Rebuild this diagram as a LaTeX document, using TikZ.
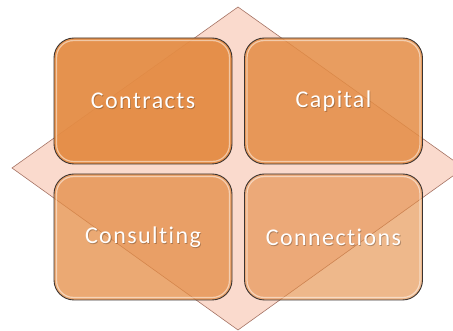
\documentclass[tikz,border=0pt]{standalone}
\usepackage{fontspec}
\setmainfont{Carlito}
\newfontfamily\tilefont[LetterSpace=6,Ligatures=NoCommon]{Carlito}
\begin{document}
\begin{tikzpicture}[x=1pt,y=1pt,
  diam/.style={fill=dfill,draw=dline,line width=0.6pt},
  tile/.style={rounded corners=20pt,draw=tline,line width=0.9pt,fill=tbase,
    minimum width=178pt,minimum height=126pt,inner sep=0pt,anchor=center},
  lbl/.style={text=white,font=\tilefont\fontsize{24}{26}\selectfont},
  shd/.style={text=black,text opacity=0.25,font=\tilefont\fontsize{24}{26}\selectfont}]
\definecolor{dfill}{RGB}{250,218,205}
\definecolor{dline}{RGB}{165,115,100}
\definecolor{tbase}{RGB}{228,140,68}
\definecolor{tline}{RGB}{60,52,48}
\useasboundingbox (0,0) rectangle (453,331);
\begin{scope}
\clip (0,0) rectangle (453,331);
\draw[diam] (238,324) coordinate (dt) -- (464,163) coordinate (dr) -- (238,1) coordinate (db) -- (12,163) coordinate (dl) -- cycle;
\end{scope}
\node[tile,fill opacity=0.95] (t1) at (143,230) {};
\node[tile,fill opacity=0.85] (t2) at (333.5,230) {};
\node[tile,fill opacity=0.75] (t3) at (143,94) {};
\node[tile,fill opacity=0.62] (t4) at (333.5,94) {};
\foreach \n in {t1,t2,t3,t4}{
  \draw[white,opacity=0.5,line width=1.2pt,rounded corners=17pt]
    ([xshift=3pt,yshift=3pt]\n.south west) rectangle ([xshift=-3pt,yshift=-3pt]\n.north east);
}
\node[shd] (s1) at ([shift={(0.8,-1)}]t1) {Contracts};
\node[shd] (s2) at ([shift={(0.8,-1)}]t2) {Capital};
\node[shd] (s3) at ([shift={(0.8,-1)}]t3) {Consulting};
\node[shd] (s4) at ([shift={(0.8,-1)}]t4) {Connections};
\node[lbl] (l1) at (t1) {Contracts};
\node[lbl] (l2) at (t2) {Capital};
\node[lbl] (l3) at (t3) {Consulting};
\node[lbl] (l4) at (t4) {Connections};
\end{tikzpicture}
\end{document}
